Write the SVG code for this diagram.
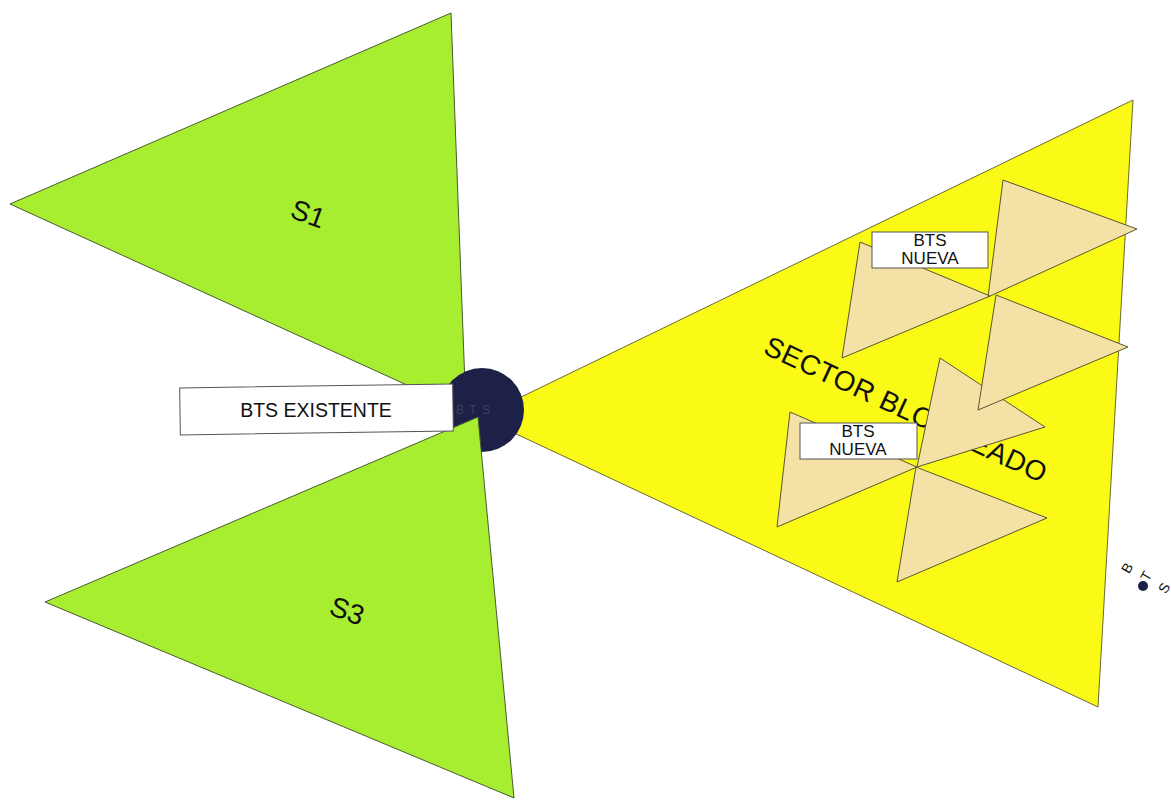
<svg xmlns="http://www.w3.org/2000/svg" width="1171" height="800" viewBox="0 0 1171 800">
  <style>
    .green { fill: #a8ee30; stroke: #4a5a30; stroke-width: 1; }
    .yellow { fill: #fafa16; stroke: #6a6a30; stroke-width: 1; }
    .beige { fill: #f3e1a6; stroke: #5a5630; stroke-width: 1; }
    .box { fill: #ffffff; stroke: #555555; stroke-width: 1; }
    .lbl { font-family: "Liberation Sans", Arial, sans-serif; fill: #111111; }
  </style>
  <rect x="0" y="0" width="1171" height="800" fill="#ffffff"/>

  <g id="sector-bloqueado">
    <polygon class="yellow" points="480,417 1133,100 1098,707"/>
    <text class="lbl" x="762" y="353" font-size="28" textLength="308" lengthAdjust="spacing" transform="rotate(25 762 353)">SECTOR BLOQUEADO</text>
  </g>

  <g id="sector-s1">
    <polygon class="green" points="10,204 451,13 466,412"/>
    <text class="lbl" x="308" y="214" font-size="28" text-anchor="middle" dominant-baseline="central" transform="rotate(20 308 214)">S1</text>
  </g>

  <g id="bts-existente">
    <circle cx="482" cy="410" r="42" fill="#1d2148"/>
  </g>

  <g id="sector-s3">
    <polygon class="green" points="45,602 478,417 514,798"/>
    <text class="lbl" x="347" y="611" font-size="28" text-anchor="middle" dominant-baseline="central" transform="rotate(20 347 611)">S3</text>
  </g>

  <g id="label-bts-existente">
    <rect class="box" x="180" y="386" width="273" height="47" transform="rotate(-0.8 316 409)"/>
    <text class="lbl" x="316" y="417" font-size="19.5" text-anchor="middle">BTS EXISTENTE</text>
    <text x="473" y="414" font-family="Liberation Sans, Arial, sans-serif" font-size="12" fill="#3c4060" text-anchor="middle" textLength="34" lengthAdjust="spacing">BTS</text>
  </g>

  <g id="bts-nueva-2">
    <polygon class="beige" points="940,358 1045,427 917,467"/>
    <polygon class="beige" points="790,412 917,467 777,527"/>
    <polygon class="beige" points="916,467 1047,518 897,582"/>
    <rect class="box" x="800" y="423" width="117" height="36"/>
    <text class="lbl" x="858" y="437" font-size="17" text-anchor="middle">BTS</text>
    <text class="lbl" x="858" y="455" font-size="17" text-anchor="middle">NUEVA</text>
  </g>

  <g id="bts-nueva-1">
    <polygon class="beige" points="1003,180 1137,229 988,297"/>
    <polygon class="beige" points="860,242 990,296 842,358"/>
    <polygon class="beige" points="996,295 1128,347 978,410"/>
    <rect class="box" x="872" y="232" width="116" height="36"/>
    <text class="lbl" x="930" y="246" font-size="17" text-anchor="middle">BTS</text>
    <text class="lbl" x="930" y="264" font-size="17" text-anchor="middle">NUEVA</text>
  </g>

  <g id="bts-remota">
    <circle cx="1143" cy="586" r="5" fill="#1d2148"/>
    <text class="lbl" x="1127" y="573" font-size="14" text-anchor="middle" transform="rotate(-60 1127 568)">B</text>
    <text class="lbl" x="1146" y="581" font-size="14" text-anchor="middle" transform="rotate(-60 1146 576)">T</text>
    <text class="lbl" x="1164" y="593" font-size="14" text-anchor="middle" transform="rotate(-60 1164 588)">S</text>
  </g>

  <g id="connectors"></g>
</svg>
